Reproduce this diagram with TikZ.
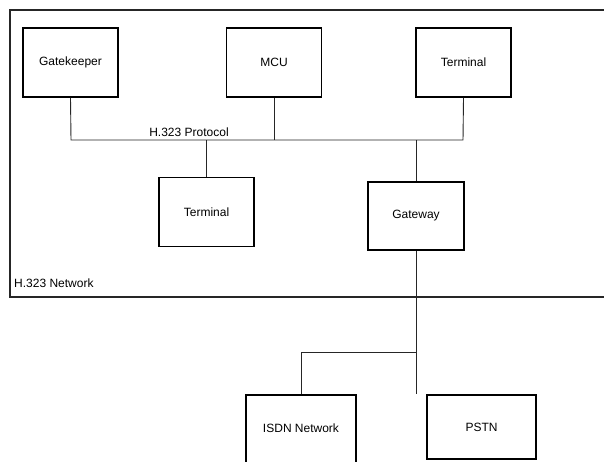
\documentclass[tikz,border=0pt]{standalone}
\usepackage{fontspec}
\setmainfont{Liberation Sans}
\begin{document}
\begin{tikzpicture}[x=1pt,y=-1pt,
  unit/.style={draw=black, line width=1.6pt, minimum width=95pt, minimum height=69pt,
    font=\fontsize{12}{14}\selectfont, inner sep=0pt},
  link/.style={draw=black!85, line width=0.9pt},
  frame/.style={draw=black!85, line width=1.6pt}]
  \useasboundingbox (0,0) rectangle (604,462);
  \clip (0,0) rectangle (604,462);
  % H.323 network boundary
  \draw[frame] (620,10) -- (10,10) -- (10,297) -- (620,297);
  \node[anchor=south west, font=\fontsize{12}{14}\selectfont, inner sep=0pt] (netlabel) at (14,288) {H.323 Network};
  % endpoints on the H.323 side
  \node[unit] (gk) at (70.5,62.5) {Gatekeeper};
  \node[unit] (mcu) at (274,62.5) {MCU};
  \node[unit] (term1) at (463.5,62.5) {Terminal};
  \node[unit] (term2) at (206.5,212) {Terminal};
  \node[unit, minimum width=96pt, minimum height=68pt] (gw) at (416,216) {Gateway};
  % circuit-switched networks
  \node[unit, minimum width=110pt, minimum height=90pt] (isdn) at (301,440) {};
  \node[font=\fontsize{12}{14}\selectfont] (isdntext) at (301,428) {ISDN Network};
  \node[unit, minimum width=109pt, minimum height=64pt] (pstn) at (481.5,427) {PSTN};
  % protocol bus
  \coordinate (busL) at (71,140);
  \coordinate (busR) at (463,140);
  \draw[link] (gk.south) -- (busL) -- (busR) -- (term1.south);
  \draw[link] (mcu.south) -- (mcu.south |- busL);
  \draw[link] (term2.north) -- (term2.north |- busL);
  \draw[link] (gw.north) -- (gw.north |- busL);
  \node[font=\fontsize{12}{14}\selectfont, anchor=south, inner sep=1pt] (proto) at (189,138) {H.323 Protocol};
  % gateway uplinks
  \coordinate (split) at (416,352);
  \draw[link] (gw.south) -- (split) -- (split -| isdn.north) -- (isdn.north);
  \draw[link] (split) -- (split |- pstn.north);
\end{tikzpicture}
\end{document}
